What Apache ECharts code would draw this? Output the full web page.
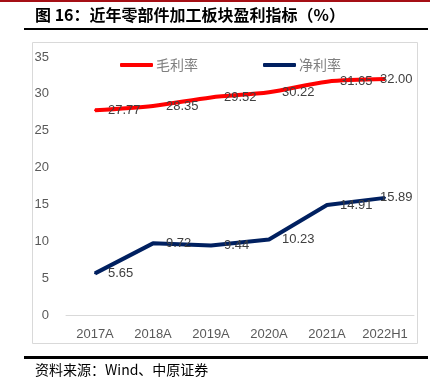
<!DOCTYPE html>
<html>
<head>
<meta charset="utf-8">
<script src="https://cdn.jsdelivr.net/npm/echarts@6/dist/echarts.min.js"></script>
<style>html,body{margin:0;padding:0;background:#fff;}#c{width:430px;height:378px;}</style>
</head>
<body>
<div id="c"></div>
<script>
const categories = ['2017A', '2018A', '2019A', '2020A', '2021A', '2022H1'];
const grossMargin = [27.77, 28.35, 29.52, 30.22, 31.65, 32.00];
const netMargin = [5.65, 9.72, 9.44, 10.23, 14.91, 15.89];
const yTicks = [0, 5, 10, 15, 20, 25, 30, 35];
const titleText = '图 16：近年零部件加工板块盈利指标（%）';
const sourceText = '资料来源：Wind、中原证券';

const chart = echarts.init(document.getElementById('c'), null, {renderer: 'canvas'});
const numFont = '"Liberation Sans", Arial, sans-serif';
const cjkFont = '"Noto Sans CJK SC", sans-serif';

function makeData(vals) {
  return vals.map((v, i) => {
    const d = {value: v};
    if (i === vals.length - 1) d.label = {offset: [-18, 0]};
    return d;
  });
}

chart.setOption({
  animation: false,
  backgroundColor: '#fff',
  graphic: [
    {type: 'rect', shape: {x: 0, y: 0, width: 430, height: 2}, style: {fill: '#a50f15'}},
    {type: 'text', left: 35, top: 7, style: {text: titleText, font: 'bold 16px ' + cjkFont, fill: '#000'}},
    {type: 'rect', shape: {x: 24, y: 28, width: 404, height: 2}, style: {fill: '#000'}},
    {type: 'rect', shape: {x: 32.5, y: 42.5, width: 385, height: 301}, style: {fill: 'none', stroke: '#d9d9d9', lineWidth: 1}},
    {type: 'rect', shape: {x: 24, y: 356, width: 404, height: 3}, style: {fill: '#000'}},
    {type: 'text', left: 35, top: 363, style: {text: sourceText, font: '14px ' + cjkFont, fill: '#000'}}
  ],
  legend: {
    left: 115, top: 53,
    itemWidth: 33, itemHeight: 4, itemGap: 65,
    icon: 'roundRect',
    textStyle: {fontFamily: cjkFont, fontSize: 14, color: '#7f7f7f', padding: [0, 0, 0, -2]},
    data: ['毛利率', '净利率']
  },
  grid: {left: 66, right: 16, top: 57, bottom: 63, containLabel: false},
  xAxis: {
    type: 'category',
    data: categories,
    boundaryGap: true,
    axisLine: {lineStyle: {color: '#d9d9d9', width: 1}},
    axisTick: {show: false},
    axisLabel: {interval: 0, color: '#595959', fontFamily: numFont, fontSize: 13, margin: 13}
  },
  yAxis: {
    type: 'value',
    min: yTicks[0], max: yTicks[yTicks.length - 1], interval: 5,
    axisLine: {show: false},
    axisTick: {show: false},
    splitLine: {show: false},
    axisLabel: {color: '#595959', fontFamily: numFont, fontSize: 13, margin: 17}
  },
  series: [
    {
      name: '毛利率', type: 'line', data: makeData(grossMargin),
      smooth: 0.3,
      symbol: 'circle', symbolSize: 2,
      itemStyle: {color: '#ff0000'},
      lineStyle: {color: '#ff0000', width: 4},
      label: {show: true, position: 'right', distance: 12, color: '#404040', fontFamily: numFont, fontSize: 13,
        formatter: p => p.value.toFixed(2)}
    },
    {
      name: '净利率', type: 'line', data: makeData(netMargin),
      symbol: 'circle', symbolSize: 2,
      itemStyle: {color: '#002060'},
      lineStyle: {color: '#002060', width: 4},
      label: {show: true, position: 'right', distance: 12, color: '#404040', fontFamily: numFont, fontSize: 13,
        formatter: p => p.value.toFixed(2)}
    }
  ]
});
</script>
</body>
</html>
